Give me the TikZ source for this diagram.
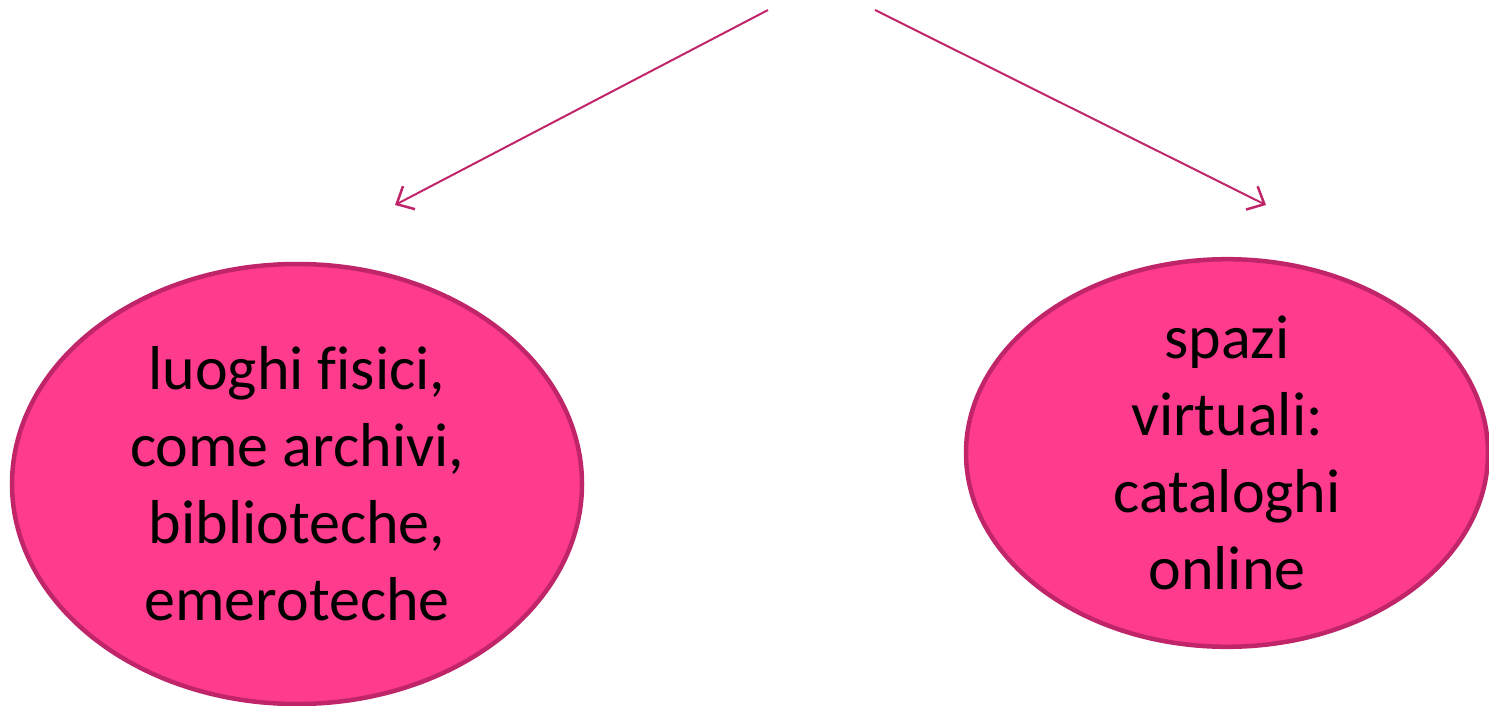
\documentclass[tikz,border=0pt]{standalone}
\usepackage{fontspec}
\setmainfont[Ligatures=CommonOff]{Carlito}
\usetikzlibrary{shapes.geometric,arrows.meta}
\definecolor{pinkfill}{HTML}{FF3B8E}
\definecolor{pinkline}{HTML}{C0256A}
\begin{document}
\begin{tikzpicture}[x=1pt,y=-1pt,
  blob/.style={ellipse,draw=pinkline,fill=pinkfill,line width=4.5pt,inner sep=0pt,
    align=center,font=\fontsize{62}{77}\selectfont,text=black},
  conn/.style={draw=pinkline,line width=2pt,-{Straight Barb[length=14pt,width=26pt,line width=2.5pt]}}]
\useasboundingbox (0,0) rectangle (1489,706);
\node[blob,minimum width=570pt,minimum height=440pt] (left) at (297,484)
  {luoghi fisici,\\come archivi,\\biblioteche,\\emeroteche};
\node[blob,minimum width=522pt,minimum height=378pt] (right) at (1227,453)
  {spazi\\virtuali:\\cataloghi\\online};
\coordinate (s1) at (768,10);
\coordinate (e1) at (395,205);
\coordinate (s2) at (875,10);
\coordinate (e2) at (1266,205);
\draw[conn] (s1) -- (e1);
\draw[conn] (s2) -- (e2);
\end{tikzpicture}
\end{document}
